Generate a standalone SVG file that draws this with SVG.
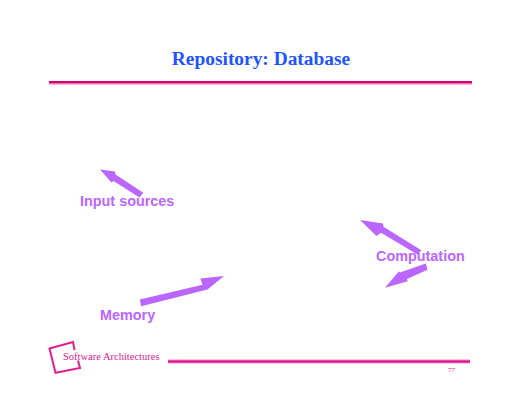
<svg xmlns="http://www.w3.org/2000/svg" width="520" height="402" viewBox="0 0 520 402">
<style>
.lbl{font-family:"Liberation Sans",Arial,sans-serif;font-weight:bold;font-size:14.4px;fill:#bb66ff}
.arr{fill:#bb66ff}
.foot{font-family:"Liberation Serif","Times New Roman",serif;fill:#e0208f}
</style>
<rect width="520" height="402" fill="#fff"/>
<g id="header">
<text x="261" y="65" text-anchor="middle" font-family="Liberation Serif,Times New Roman,serif" font-weight="bold" font-size="19.400" fill="#1f55ff">Repository: Database</text>
<rect x="49" y="81" width="423" height="2" fill="#d6006f"/>
<rect x="49" y="83" width="423" height="1.500" fill="#ee70b8"/>
</g>
<g id="connectors">
<polygon class="arr" points="100,169.500 115,171.500 115.500,174.500 143.300,192.800 139.500,197.500 113.500,181 111.500,182.500"/>
<polygon class="arr" points="360,220 383,223.500 383.500,226.800 421.300,250.200 417.800,254.800 381,232.800 376.500,236"/>
<polygon class="arr" points="385,287.800 399,271.300 400,272.600 425.800,263.500 427.500,269.700 407,279 407.700,281.300"/>
<polygon class="arr" points="224,276 200.300,278.500 202.500,284.700 139.800,299.500 141.200,306.200 205.500,290 207.500,289.500"/>
</g>
<g id="input-sources"><text class="lbl" x="80" y="206">Input sources</text></g>
<g id="computation"><text class="lbl" x="376" y="261">Computation</text></g>
<g id="memory"><text class="lbl" x="100" y="320">Memory</text></g>
<g id="footer">
<path d="M74.500,350 L73,342 L49.500,348.500 L55.500,372.800 L80,368 L78,360.500" fill="none" stroke="#e0208f" stroke-width="2"/>
<text class="foot" x="63" y="360" font-size="10.500">Software Architectures</text>
<rect x="168" y="359.500" width="302" height="4" fill="#f48cc8"/>
<rect x="168" y="360.500" width="302" height="2" fill="#dc1088"/>
<text class="foot" x="448" y="372" font-size="7">77</text>
</g>
</svg>
